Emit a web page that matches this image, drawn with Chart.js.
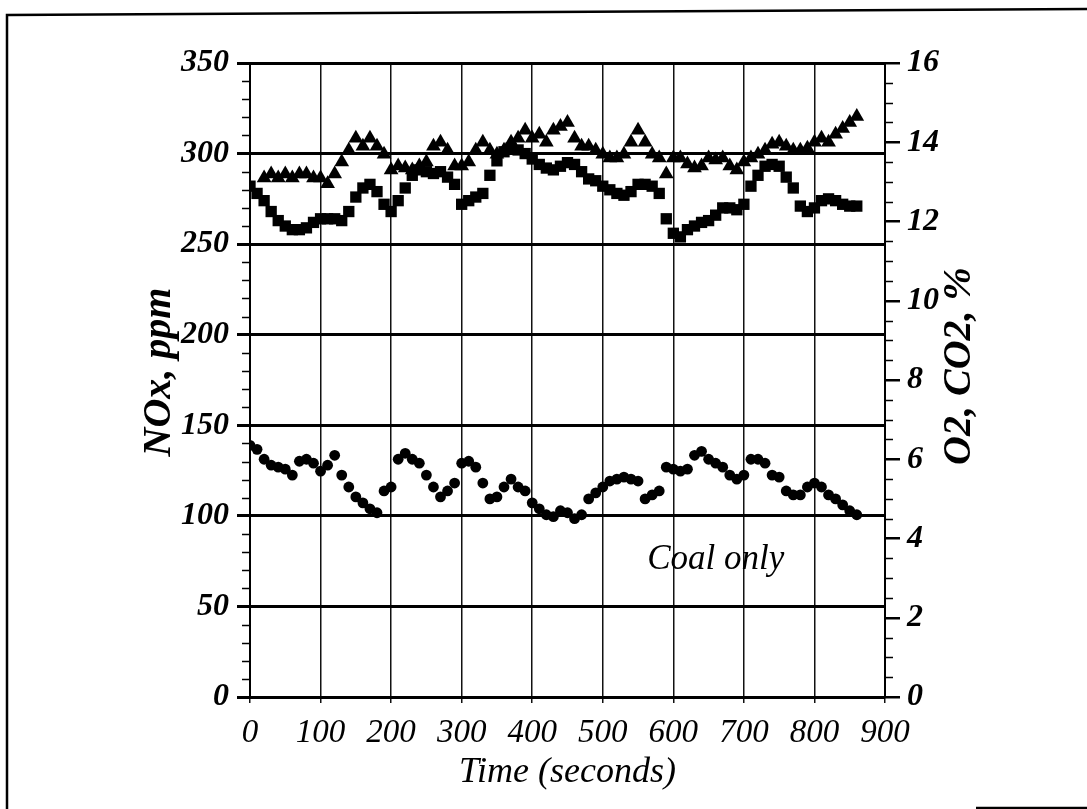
<!DOCTYPE html>
<html>
<head>
<meta charset="utf-8">
<title>NOx, O2 and CO2 - coal only</title>
<script src="https://cdn.jsdelivr.net/npm/chart.js@4.4.0/dist/chart.umd.min.js"></script>
<style>
  html, body { margin: 0; padding: 0; background: #fff; }
  #wrap { width: 1087px; height: 809px; position: relative; }
</style>
</head>
<body>
<div id="wrap"><canvas id="chart" width="1087" height="809"></canvas></div>
<script>
// sample times (s)
const timeSec = [0, 10, 20, 30, 40, 50, 60, 70, 80, 90,
  100, 110, 120, 130, 140, 150, 160, 170, 180, 190,
  200, 210, 220, 230, 240, 250, 260, 270, 280, 290,
  300, 310, 320, 330, 340, 350, 360, 370, 380, 390,
  400, 410, 420, 430, 440, 450, 460, 470, 480, 490,
  500, 510, 520, 530, 540, 550, 560, 570, 580, 590,
  600, 610, 620, 630, 640, 650, 660, 670, 680, 690,
  700, 710, 720, 730, 740, 750, 760, 770, 780, 790,
  800, 810, 820, 830, 840, 850, 860];

// NOx, ppm (left axis)
const noxPpm = [282, 278, 274, 268, 263, 260, 258, 258, 259, 262,
  264, 264, 264, 263, 268, 276, 281, 283, 279, 272,
  268, 274, 281, 288, 291, 290, 289, 290, 287, 283,
  272, 274, 276, 278, 288, 296, 301, 303, 302, 300,
  297, 294, 292, 291, 293, 295, 294, 290, 286, 285,
  282, 280, 278, 277, 279, 283, 283, 282, 278, 264,
  256, 254, 258, 260, 262, 263, 266, 270, 270, 269,
  272, 282, 288, 293, 294, 293, 287, 281, 271, 268,
  270, 274, 275, 274, 272, 271, 271];

// CO2, % (right axis)
const co2Pct = [null, null, 13.1, 13.2, 13.1, 13.2, 13.1, 13.2, 13.2, 13.1,
  13.1, 12.95, 13.2, 13.5, 13.8, 14.1, 13.9, 14.1, 13.9, 13.7,
  13.3, 13.4, 13.35, 13.3, 13.4, 13.5, 13.9, 14.0, 13.8, 13.4,
  13.4, 13.5, 13.8, 14.0, 13.8, 13.7, 13.8, 14.0, 14.1, 14.3,
  14.1, 14.2, 14.0, 14.3, 14.4, 14.5, 14.1, 13.9, 13.9, 13.8,
  13.7, 13.6, 13.6, 13.7, 14.0, 14.3, 14.0, 13.7, 13.6, 13.2,
  13.6, 13.6, 13.45, 13.35, 13.4, 13.6, 13.55, 13.6, 13.4, 13.3,
  13.5, 13.6, 13.7, 13.8, 13.95, 14.0, 13.9, 13.8, 13.8, 13.85,
  14.0, 14.1, 14.0, 14.2, 14.35, 14.5, 14.65];

// O2, % (right axis)
const o2Pct = [6.35, 6.25, 6.0, 5.85, 5.8, 5.75, 5.6, 5.95, 6.0, 5.9,
  5.7, 5.85, 6.1, 5.6, 5.3, 5.05, 4.9, 4.75, 4.65, 5.2,
  5.3, 6.0, 6.15, 6.0, 5.9, 5.6, 5.3, 5.05, 5.2, 5.4,
  5.9, 5.95, 5.8, 5.4, 5.0, 5.05, 5.3, 5.5, 5.3, 5.2,
  4.9, 4.75, 4.6, 4.55, 4.7, 4.65, 4.5, 4.6, 5.0, 5.15,
  5.3, 5.45, 5.5, 5.55, 5.5, 5.45, 5.0, 5.1, 5.2, 5.8,
  5.75, 5.7, 5.75, 6.1, 6.2, 6.0, 5.9, 5.8, 5.6, 5.5,
  5.6, 6.0, 6.0, 5.9, 5.6, 5.55, 5.2, 5.1, 5.1, 5.3,
  5.4, 5.3, 5.1, 5.0, 4.85, 4.7, 4.6];

const noxTicks = [0, 50, 100, 150, 200, 250, 300, 350];
const pctTicks = [0, 2, 4, 6, 8, 10, 12, 14, 16];
const timeTicks = [0, 100, 200, 300, 400, 500, 600, 700, 800, 900];

const serif = 'Liberation Serif, "DejaVu Serif", serif';

function pairs(ys) {
  return timeSec.map((t, i) => ({ x: t, y: ys[i] })).filter(p => p.y !== null);
}

function setTicks(list) {
  return scale => { scale.ticks = list.map(v => ({ value: v })); };
}

// frame, minor ticks, axis titles and the note inside the plot
const decorations = {
  id: 'decorations',
  beforeDraw(chart) {
    const ctx = chart.ctx;
    ctx.save();
    ctx.fillStyle = '#fff';
    ctx.fillRect(0, 0, chart.width, chart.height);
    ctx.restore();
  },
  afterDraw(chart) {
    const ctx = chart.ctx;
    const { x, y, y2 } = chart.scales;
    const area = chart.chartArea;
    ctx.save();
    ctx.strokeStyle = '#000';

    // outer frame
    ctx.lineWidth = 2.5;
    ctx.beginPath();
    ctx.moveTo(7, 809);
    ctx.lineTo(7, 15);
    ctx.lineTo(1087, 9);
    ctx.stroke();
    ctx.beginPath();
    ctx.moveTo(976, 808);
    ctx.lineTo(1087, 808);
    ctx.stroke();

    // minor ticks, left every 10 ppm, right every 0.5 %
    ctx.lineWidth = 1.5;
    ctx.beginPath();
    for (let v = 10; v < 350; v += 10) {
      if (v % 50 === 0) continue;
      const py = Math.round(y.getPixelForValue(v)) + 0.5;
      ctx.moveTo(area.left - 8, py);
      ctx.lineTo(area.left, py);
    }
    for (let v = 0.5; v < 16; v += 0.5) {
      if (v % 2 === 0) continue;
      const py = Math.round(y2.getPixelForValue(v)) + 0.5;
      ctx.moveTo(area.right, py);
      ctx.lineTo(area.right + 8, py);
    }
    ctx.stroke();

    ctx.fillStyle = '#000';
    ctx.textAlign = 'center';
    ctx.textBaseline = 'middle';

    // axis titles
    ctx.font = 'italic bold 40px ' + serif;
    ctx.save();
    ctx.translate(160, 372);
    ctx.rotate(-Math.PI / 2);
    ctx.fillText('NOx, ppm', 0, 0);
    ctx.restore();

    ctx.save();
    ctx.translate(960, 366);
    ctx.rotate(-Math.PI / 2);
    ctx.fillText('O2, CO2, %', 0, 0);
    ctx.restore();

    ctx.font = 'italic 36px ' + serif;
    ctx.fillText('Time (seconds)', (area.left + area.right) / 2, 773);

    // run label
    ctx.font = 'italic 35px ' + serif;
    ctx.fillText('Coal only', x.getPixelForValue(660), y.getPixelForValue(76));
    ctx.restore();
  }
};

const xFont = { family: serif, style: 'italic', size: 33 };
const yFont = { family: serif, style: 'italic', weight: 'bold', size: 32 };

new Chart(document.getElementById('chart'), {
  type: 'scatter',
  data: {
    datasets: [
      {
        label: 'O2',
        data: pairs(o2Pct),
        yAxisID: 'y2',
        pointStyle: 'circle',
        pointRadius: 5.4,
        pointBackgroundColor: '#000',
        pointBorderWidth: 0
      },
      {
        label: 'NOx',
        data: pairs(noxPpm),
        yAxisID: 'y',
        pointStyle: 'rect',
        pointRadius: 8,
        pointBackgroundColor: '#000',
        pointBorderWidth: 0
      },
      {
        label: 'CO2',
        data: pairs(co2Pct),
        yAxisID: 'y2',
        pointStyle: 'triangle',
        pointRadius: 8.5,
        pointBackgroundColor: '#000',
        pointBorderWidth: 0
      }
    ]
  },
  options: {
    responsive: false,
    animation: false,
    devicePixelRatio: 1,
    layout: { padding: { top: 63, left: 0, right: 0, bottom: 0 } },
    plugins: {
      legend: { display: false },
      tooltip: { enabled: false }
    },
    scales: {
      x: {
        type: 'linear',
        min: 0,
        max: 900,
        afterBuildTicks: setTicks(timeTicks),
        afterFit: s => { s.height = 112; },
        grid: { color: '#111', lineWidth: 1.5, tickLength: 6 },
        border: { display: true, color: '#000', width: 3 },
        ticks: { color: '#000', font: xFont, padding: 11, maxRotation: 0 }
      },
      y: {
        position: 'left',
        min: 0,
        max: 350,
        afterBuildTicks: setTicks(noxTicks),
        afterFit: s => { s.width = 250; },
        grid: { color: '#000', lineWidth: 3, tickLength: 13 },
        border: { display: true, color: '#000', width: 2 },
        ticks: { color: '#000', font: yFont, padding: 8 }
      },
      y2: {
        position: 'right',
        min: 0,
        max: 16,
        afterBuildTicks: setTicks(pctTicks),
        afterFit: s => { s.width = 202; },
        grid: { drawOnChartArea: false, color: '#000', lineWidth: 2.5, tickLength: 15 },
        border: { display: true, color: '#000', width: 2 },
        ticks: { color: '#000', font: yFont, padding: 7 }
      }
    }
  },
  plugins: [decorations]
});
</script>
</body>
</html>
